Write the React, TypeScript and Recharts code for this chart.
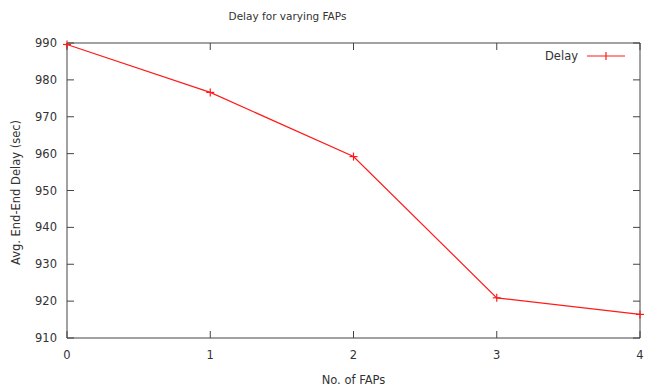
import React from 'react';
import { LineChart, Line, XAxis, YAxis, Legend } from 'recharts';

const fapCounts = [0, 1, 2, 3, 4];
const delayValues = [989.6, 976.6, 959.2, 920.9, 916.4];
const yTicks = [910, 920, 930, 940, 950, 960, 970, 980, 990];
const seriesName = 'Delay';

const data = fapCounts.map((f, i) => ({ faps: f, delay: delayValues[i] }));

const RED = '#ff1a1a';
const AXIS = '#444444';
const TEXT = '#333333';
const FONT = 'DejaVu Sans';

const Cross = (props: any) => {
  const { cx, cy } = props;
  if (cx == null || cy == null) return null;
  return (
    <g>
      <line x1={cx - 4} x2={cx + 4} y1={cy} y2={cy} stroke={RED} strokeWidth={1.2} />
      <line x1={cx} x2={cx} y1={cy - 4} y2={cy + 4} stroke={RED} strokeWidth={1.2} />
    </g>
  );
};

const LegendContent = () => (
  <div style={{ display: 'flex', alignItems: 'center', fontFamily: FONT, fontSize: 11.5, color: TEXT }}>
    <span style={{ marginRight: 9 }}>{seriesName}</span>
    <svg width={38} height={10}>
      <line x1={0} x2={38} y1={5} y2={5} stroke={RED} strokeWidth={1.2} />
      <line x1={19} x2={19} y1={1} y2={9} stroke={RED} strokeWidth={1.2} />
    </svg>
  </div>
);

const TitleLabel = (props: any) => {
  const vb = props.viewBox || {};
  const x = vb.x + vb.width / 2 - 66;
  return (
    <text x={x} y={vb.y - 22} textAnchor="middle" fontFamily={FONT} fontSize={10.5} fill={TEXT}>
      Delay for varying FAPs
    </text>
  );
};

const YTitle = (props: any) => {
  const vb = props.viewBox || {};
  const x = vb.x + 9;
  const y = vb.y + vb.height / 2 + 2;
  return (
    <text
      x={x}
      y={y}
      textAnchor="middle"
      dominantBaseline="central"
      transform={`rotate(-90, ${x}, ${y})`}
      fontFamily={FONT}
      fontSize={11.5}
      fill={TEXT}
    >
      Avg. End-End Delay (sec)
    </text>
  );
};

const XTitle = (props: any) => {
  const vb = props.viewBox || {};
  const x = vb.x + vb.width / 2;
  const y = vb.y + vb.height + 12;
  return (
    <text x={x} y={y} textAnchor="middle" dominantBaseline="central" fontFamily={FONT} fontSize={11.5} fill={TEXT}>
      No. of FAPs
    </text>
  );
};

export default function App() {
  return (
    <div style={{ position: 'absolute', left: 0, top: 0, fontFamily: FONT, background: '#fff' }}>
      <LineChart
        width={645}
        height={391}
        data={data}
        margin={{ top: 42, right: 4, bottom: 23, left: 7 }}
      >
        <XAxis
          dataKey="faps"
          type="number"
          domain={[0, 4]}
          ticks={fapCounts}
          height={30}
          stroke={AXIS}
          tickSize={-7}
          tickMargin={20}
          tick={{ fontSize: 11.5, fill: TEXT, fontFamily: FONT }}
          label={{ content: <XTitle /> }}
        />
        <XAxis
          xAxisId="top"
          dataKey="faps"
          orientation="top"
          type="number"
          domain={[0, 4]}
          ticks={fapCounts}
          height={1}
          stroke={AXIS}
          tickSize={-7}
          tickFormatter={() => ''}
          label={{ content: <TitleLabel /> }}
        />
        <YAxis
          type="number"
          domain={[910, 990]}
          ticks={yTicks}
          width={60}
          stroke={AXIS}
          tickSize={-7}
          tickMargin={17}
          tick={{ fontSize: 11.5, fill: TEXT, fontFamily: FONT }}
          label={{ content: <YTitle /> }}
        />
        <YAxis
          yAxisId="right"
          orientation="right"
          type="number"
          domain={[910, 990]}
          ticks={yTicks}
          width={1}
          stroke={AXIS}
          tickSize={-7}
          tickFormatter={() => ''}
        />
        <Legend
          layout="horizontal"
          verticalAlign="middle"
          align="center"
          content={<LegendContent />}
          wrapperStyle={{ left: 545, top: 49, width: 90, height: 16 }}
        />
        <Line
          type="linear"
          dataKey="delay"
          name={seriesName}
          stroke={RED}
          strokeWidth={1.2}
          dot={<Cross />}
          activeDot={false}
          isAnimationActive={false}
        />
        <Line
          xAxisId="top"
          yAxisId="right"
          type="linear"
          dataKey="delay"
          stroke="none"
          dot={false}
          activeDot={false}
          legendType="none"
          isAnimationActive={false}
        />
      </LineChart>
    </div>
  );
}
